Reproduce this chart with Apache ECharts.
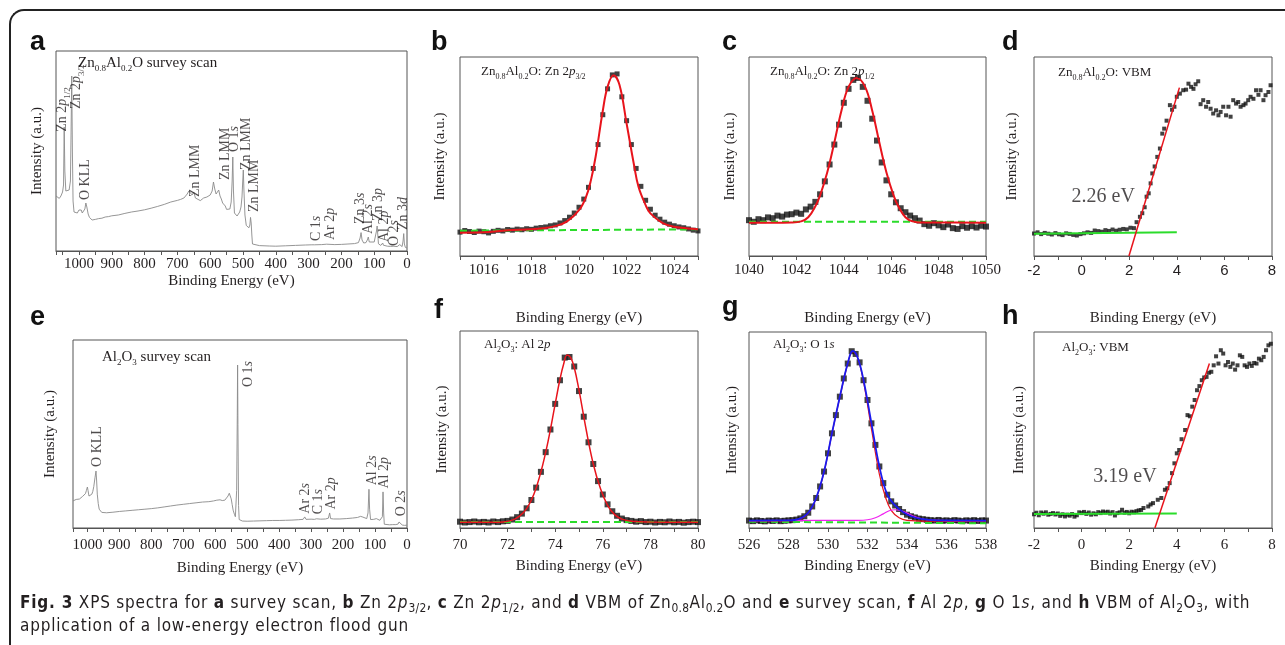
<!DOCTYPE html>
<html>
<head>
<meta charset="utf-8">
<title>XPS spectra</title>
<script src="https://cdn.jsdelivr.net/npm/echarts@6/dist/echarts.min.js"></script>
<style>
  html, body { margin: 0; padding: 0; background: #fff; }
  #frame {
    position: absolute; left: 9px; top: 9px; width: 1320px; height: 680px;
    border-left: 2px solid #222; border-top: 2px solid #222; border-top-left-radius: 15px;
  }
  #chart { position: absolute; left: 0; top: 0; width: 1285px; height: 645px; }
  #caption {
    position: absolute; left: 20px; top: 591px; white-space: nowrap;
    font-family: 'Liberation Sans Narrow', 'DejaVu Sans Condensed', sans-serif;
    font-size: 17px; letter-spacing: 0.8px; line-height: 23px; color: #231f20;
  }
  #caption sub { font-size: 70%; line-height: 0; letter-spacing: 0.3px; }
</style>
</head>
<body>
<div id="frame"></div>
<div id="chart"></div>
<div id="caption"><b>Fig. 3</b> XPS spectra for <b>a</b> survey scan, <b>b</b> Zn 2<i>p</i><sub>3/2</sub>, <b>c</b> Zn 2<i>p</i><sub>1/2</sub>, and <b>d</b> VBM of Zn<sub>0.8</sub>Al<sub>0.2</sub>O and <b>e</b> survey scan, <b>f</b> Al 2<i>p</i>, <b>g</b> O 1<i>s</i>, and <b>h</b> VBM of Al<sub>2</sub>O<sub>3</sub>, with<br>application of a low-energy electron flood gun</div>
<script>
// ---- data (intensity in arbitrary units, 0-100 of the box) ----

// a: Zn0.8Al0.2O survey
const surveyAE = [1070, 1065, 1060, 1055, 1050, 1047, 1045, 1043, 1040, 1035, 1030, 1026, 1024, 1022, 1020, 1018, 1015, 1010, 1005, 1000,
  996, 993, 990, 986, 982, 979, 976, 972, 968, 964, 960, 950, 940, 930, 920, 910, 900, 880, 860, 840, 820, 800, 780, 760, 740, 720, 700,
  690, 680, 670, 665, 660, 655, 650, 645, 640, 630, 620, 610, 600, 594, 590, 586, 582, 578, 574, 570, 566, 562, 558, 554, 550, 545, 540,
  536, 533, 531, 529, 526, 522, 518, 514, 510, 506, 503, 501, 499, 497, 494, 490, 486, 482, 479, 477, 475, 473, 471, 468, 450, 420, 400,
  370, 340, 310, 290, 285, 282, 260, 245, 242, 239, 220, 200, 180, 160, 148, 143, 140, 137, 132, 125, 121, 118, 115, 110, 100, 96, 93,
  91, 89, 87, 84, 80, 76, 74, 72, 60, 50, 40, 30, 25, 22, 19, 15, 12, 10, 8, 5, 0]
const surveyAI = [27.5, 26.8, 26.3, 27.5, 29.5, 33, 62, 40, 30, 29.5, 30.5, 35, 60, 87.5, 50, 25, 19.5, 18.5, 19, 20.5,
  19.5, 20.5, 19, 19.5, 21, 24, 22, 18.5, 16.8, 15.8, 15.5, 15.8, 16.2, 16.4, 17, 17.2, 17.6, 18, 18.8, 19.5, 20, 20.6, 21.4, 22.3, 23.3, 24.5, 25.3,
  25.8, 26.5, 28.5, 30, 30.5, 28, 29.5, 26.5, 25.6, 25.2, 26.5, 27, 28, 30, 34.5, 31, 28.5, 29, 30.5, 27.5, 26, 24, 24.5, 22.5, 20.8, 20.2, 21,
  24.5, 35, 47, 30, 19, 18.3, 17.5, 17.8, 19.5, 22, 27, 34, 40.5, 30, 18, 12.8, 11.8, 11.6, 13, 16.8, 14, 8, 3.5, 2.8, 2.7, 2.5, 2.4,
  2.6, 2.8, 3.0, 3.1, 3.8, 3.1, 3.2, 3.4, 4.3, 3.3, 3.2, 3.3, 3.5, 3.7, 4.2, 6.5, 9.2, 5.5, 4, 4.2, 5.5, 7, 4.5, 4.2, 4.5, 5.5, 10,
  12.5, 8, 3.6, 2.9, 2.8, 3.3, 4, 2.9, 2.4, 2.3, 2.4, 2.2, 2.8, 3.2, 2.4, 2.2, 5, 8.7, 3.5, 1.8, 1.5]
const surveyALabels = ['{n|Zn 2}{i|p}{s|1/2}', '{n|Zn 2}{i|p}{s|3/2}', '{n|O KLL}', '{n|Zn LMM}', '{n|Zn LMM}', '{n|O 1}{i|s}',
  '{n|Zn LMM}', '{n|Zn LMM}', '{n|C 1}{i|s}', '{n|Ar 2}{i|p}', '{n|Zn 3}{i|s}', '{n|Al 2}{i|s}', '{n|Zn 3}{i|p}', '{n|Al 2}{i|p}',
  '{n|O 2}{i|s}', '{n|Zn 3}{i|d}']
const surveyALabelE = [1050, 1007, 980, 644, 554, 525, 490, 466, 275, 234, 141, 117, 88, 69, 39, 10]
const surveyALabelI = [59.6, 71, 25.5, 27, 35.5, 49.5, 40.5, 19.5, 5, 5.5, 13.5, 8.5, 15, 4.5, 2.5, 10.5]

// e: Al2O3 survey
const surveyEE = [1045, 1040, 1035, 1030, 1025, 1020, 1015, 1010, 1006, 1003, 1000, 998, 995, 992, 989, 986, 983, 980, 976, 973,
  971, 969, 966, 963, 960, 955, 950, 940, 920, 900, 880, 860, 840, 820, 800, 780, 760, 740, 720, 700, 680, 660, 640, 620, 605, 595,
  585, 578, 570, 565, 560, 556, 553, 550, 547, 544, 540, 537, 535, 533, 531, 530, 529, 527, 525, 522, 515, 500, 480, 460, 440, 420,
  400, 380, 360, 340, 325, 320, 316, 300, 290, 286, 283, 270, 255, 246, 242, 239, 230, 210, 190, 170, 155, 145, 138, 132, 126, 122,
  119, 117, 114, 110, 104, 100, 96, 90, 85, 80, 77, 75, 73, 71, 65, 55, 45, 35, 28, 25, 23, 21, 15, 8, 3, 0]
const surveyEI = [14.4, 14.8, 15.2, 15.5, 15.4, 16, 16.8, 17.5, 18.3, 20, 21.8, 20, 17, 16.8, 17.2, 18, 19.5, 22, 27, 30.3,
  25, 18, 13, 10, 9, 8.3, 8.2, 8.1, 8.4, 8.8, 9.1, 9.4, 9.7, 10, 10.3, 10.7, 11.2, 11.7, 12.2, 12.6, 13, 13.4, 13.8, 14, 14.4, 14.8,
  15, 14.6, 14.8, 15.8, 17, 18.5, 18, 15.5, 12.5, 9.5, 7.3, 6, 6.5, 20, 60, 86.7, 55, 12, 4.5, 3.9, 3.7, 3.6, 3.7, 3.8, 3.9, 4.0,
  4.0, 4.1, 4.2, 4.4, 4.6, 5.9, 4.6, 4.7, 4.6, 5.4, 4.9, 4.7, 4.8, 5.2, 8, 5, 4.8, 4.8, 5, 5.3, 5.6, 6.2, 5.8, 5.2, 5, 8,
  20.6, 10, 4.5, 4.4, 4.6, 5.3, 5, 4.3, 4.1, 4.2, 6, 19.2, 8, 2, 1.8, 1.7, 1.8, 1.8, 2.1, 3.2, 3.7, 2.2, 1.6, 1.4, 1.7, 1.5]
const surveyELabels = ['{n|O KLL}', '{n|O 1}{i|s}', '{n|Ar 2}{i|s}', '{n|C 1}{i|s}', '{n|Ar 2}{i|p}', '{n|Al 2}{i|s}', '{n|Al 2}{i|p}', '{n|O 2}{i|s}']
const surveyELabelE = [970, 497, 317, 278, 236, 109, 70, 18]
const surveyELabelI = [32.5, 75, 7.6, 7.3, 9.8, 22.7, 21, 6.2]

// b: Zn 2p3/2
const zn32E = [1015.0, 1015.2, 1015.4, 1015.6, 1015.8, 1016.0, 1016.2, 1016.4, 1016.6, 1016.8, 1017.0, 1017.2, 1017.4, 1017.6, 1017.8,
  1018.0, 1018.2, 1018.4, 1018.6, 1018.8, 1019.0, 1019.2, 1019.4, 1019.6, 1019.8, 1020.0, 1020.2, 1020.4, 1020.6, 1020.8, 1021.0,
  1021.2, 1021.4, 1021.6, 1021.8, 1022.0, 1022.2, 1022.4, 1022.6, 1022.8, 1023.0, 1023.2, 1023.4, 1023.6, 1023.8, 1024.0, 1024.2,
  1024.4, 1024.6, 1024.8, 1025.0]
const zn32I = [12.0, 12.8, 12.3, 11.8, 12.5, 12.2, 11.6, 12.4, 12.9, 12.6, 13.3, 13.0, 13.5, 13.2, 13.7,
  13.4, 14.0, 14.3, 14.6, 15.2, 15.6, 16.6, 17.8, 19.5, 21.6, 24.5, 28.6, 34.5, 44.0, 56.0, 71.0,
  84.0, 91.0, 91.5, 80.0, 68.0, 56.0, 44.0, 35.0, 28.0, 23.5, 20.5, 18.5, 17.0, 16.0, 15.2, 14.6,
  14.2, 13.6, 13.0, 12.6]
const zn32FitE = [1015, 1016, 1017, 1018, 1018.5, 1019, 1019.5, 1020, 1020.3, 1020.5, 1020.7, 1021, 1021.2, 1021.45, 1021.7, 1022,
  1022.3, 1022.5, 1022.8, 1023, 1023.5, 1024, 1024.5, 1025]
const zn32FitI = [11.7, 11.9, 13, 13.4, 13.9, 15, 17.4, 23, 29.8, 38, 50, 73, 85, 90.8, 86, 66.6, 46.5, 34.8, 25.6, 21.4, 16.7, 14.7, 14, 13.4]
const zn32BaseE = [1015, 1025]
const zn32BaseI = [12.7, 13.4]

// c: Zn 2p1/2
const zn12E = [1040.0, 1040.2, 1040.4, 1040.6, 1040.8, 1041.0, 1041.2, 1041.4, 1041.6, 1041.8, 1042.0, 1042.2, 1042.4, 1042.6,
  1042.8, 1043.0, 1043.2, 1043.4, 1043.6, 1043.8, 1044.0, 1044.2, 1044.4, 1044.6, 1044.8, 1045.0, 1045.2, 1045.4, 1045.6, 1045.8,
  1046.0, 1046.2, 1046.4, 1046.6, 1046.8, 1047.0, 1047.2, 1047.4, 1047.6, 1047.8, 1048.0, 1048.2, 1048.4, 1048.6, 1048.8, 1049.0,
  1049.2, 1049.4, 1049.6, 1049.8, 1050.0]
const zn12I = [18.0, 17.2, 18.5, 18.0, 19.4, 19.0, 20.3, 19.8, 20.8, 21.0, 21.8, 21.2, 23.4, 24.8,
  27.2, 31.0, 37.5, 46.0, 56.0, 66.0, 77.0, 84.0, 88.5, 89.5, 85.0, 78.0, 69.0, 58.0, 47.0, 38.0,
  31.0, 27.0, 24.0, 22.0, 20.3, 19.0, 17.8, 16.0, 15.2, 16.5, 15.4, 14.5, 15.8, 14.0, 13.6, 15.0,
  14.2, 15.0, 14.3, 15.2, 14.8]
const zn12FitE = [1040, 1041, 1041.8, 1042.2, 1042.5, 1042.8, 1043.0, 1043.3, 1043.6, 1043.9, 1044.2, 1044.55, 1044.9, 1045.2,
  1045.5, 1045.8, 1046.1, 1046.3, 1046.6, 1046.9, 1047.3, 1048, 1050]
const zn12FitI = [16.7, 16.7, 16.8, 17.4, 19.5, 25, 30.5, 42, 57, 73, 85, 89.5, 85, 73, 57, 42, 30.5, 25, 19.5, 17.4, 16.8, 16.8, 16.7]
const zn12BaseE = [1040, 1050]
const zn12BaseI = [17.2, 17.2]

// d: Zn0.8Al0.2O valence band
const vbmZnE = [-2.0, -1.85, -1.7, -1.55, -1.4, -1.25, -1.1, -0.95, -0.8, -0.65, -0.5, -0.35, -0.2, -0.05, 0.1, 0.25, 0.4, 0.55,
  0.7, 0.85, 1.0, 1.15, 1.3, 1.45, 1.6, 1.75, 1.9, 2.05, 2.2, 2.31, 2.45, 2.55, 2.65, 2.73, 2.82, 2.9, 2.97, 3.07, 3.18, 3.29,
  3.39, 3.47, 3.57, 3.71, 3.8, 3.9, 4.0, 4.13, 4.27, 4.39, 4.49, 4.6, 4.7, 4.79, 4.9, 5.0, 5.11, 5.23, 5.32, 5.42, 5.53, 5.65,
  5.75, 5.84, 5.95, 6.07, 6.17, 6.26, 6.37, 6.49, 6.58, 6.68, 6.8, 6.89, 7.0, 7.1, 7.22, 7.33, 7.43, 7.52, 7.64, 7.73, 7.85, 7.94]
const vbmZnI = [11.3, 11.9, 11.0, 11.6, 11.2, 10.8, 11.5, 10.9, 10.5, 11.4, 11.1, 10.6, 10.3, 11.0, 11.4, 11.9, 11.6, 12.8,
  12.5, 12.2, 13.0, 12.6, 13.3, 12.7, 13.2, 13.6, 13.4, 14.2, 14.0, 17.0, 19.7, 21.5, 24.5, 29.8, 31.5, 36.5, 41.5, 45.0, 49.8, 54.0,
  61.5, 64.0, 68.0, 75.8, 73.5, 75.0, 80.0, 81.6, 83.3, 83.6, 86.6, 85.0, 84.0, 86.3, 87.8, 76.3, 78.3, 75.0, 77.4, 74.0, 71.6, 73.2,
  70.7, 72.4, 75.0, 70.7, 75.0, 70.0, 78.3, 76.6, 77.4, 75.0, 75.8, 76.6, 78.3, 80.0, 79.0, 83.3, 81.0, 83.3, 78.3, 80.8, 82.4, 85.8]
const vbmZnEdgeE = [1.99, 4.11]
const vbmZnEdgeI = [0, 84.6]
const vbmZnBaseE = [-2, 4]
const vbmZnBaseI = [11.2, 11.9]
const vbmZnNote = ['2.26 eV', 0.91, 29.8]

// f: Al 2p
const al2pE = [70.0, 70.2, 70.4, 70.6, 70.8, 71.0, 71.2, 71.4, 71.6, 71.8, 72.0, 72.2, 72.4, 72.6, 72.8, 73.0, 73.2, 73.4, 73.6,
  73.8, 74.0, 74.2, 74.4, 74.6, 74.8, 75.0, 75.2, 75.4, 75.6, 75.8, 76.0, 76.2, 76.4, 76.6, 76.8, 77.0, 77.2, 77.4, 77.6, 77.8,
  78.0, 78.2, 78.4, 78.6, 78.8, 79.0, 79.2, 79.4, 79.6, 79.8, 80.0]
const al2pI = [3.2, 2.8, 3.0, 3.3, 2.9, 3.1, 2.8, 3.3, 3.0, 3.4, 3.6, 4.3, 5.5, 7.3, 10.0, 14.2, 20.5, 28.5, 38.5,
  50.0, 63.0, 75.0, 86.5, 86.8, 82.0, 69.5, 56.5, 43.5, 32.5, 23.8, 17.0, 12.0, 8.5, 6.2, 4.8, 4.0, 3.6, 3.2, 3.5, 3.0,
  3.2, 2.8, 3.1, 2.9, 3.3, 2.9, 3.1, 2.7, 3.0, 3.2, 3.0]
const al2pFitE = [70, 71, 71.8, 72.2, 72.5, 72.8, 73.1, 73.4, 73.7, 74.0, 74.2, 74.35, 74.5, 74.65, 74.8, 75.0, 75.3, 75.6, 75.9,
  76.2, 76.5, 76.8, 77.2, 78, 80]
const al2pFitI = [2.9, 2.9, 3.1, 4.0, 6.0, 9.8, 17, 28.5, 44, 63, 75.5, 83, 87.8, 86.5, 81.5, 70, 50, 32.5, 20, 11.5, 6.8, 4.5, 3.4, 3.0, 2.9]
const al2pBaseE = [70, 80]
const al2pBaseI = [3.05, 3.05]

// g: O 1s
const o1sE = [526.0, 526.2, 526.4, 526.6, 526.8, 527.0, 527.2, 527.4, 527.6, 527.8, 528.0, 528.2, 528.4, 528.6, 528.8, 529.0,
  529.2, 529.4, 529.6, 529.8, 530.0, 530.2, 530.4, 530.6, 530.8, 531.0, 531.2, 531.4, 531.6, 531.8, 532.0, 532.2, 532.4, 532.6,
  532.8, 533.0, 533.2, 533.4, 533.6, 533.8, 534.0, 534.2, 534.4, 534.6, 534.8, 535.0, 535.2, 535.4, 535.6, 535.8, 536.0, 536.2,
  536.4, 536.6, 536.8, 537.0, 537.2, 537.4, 537.6, 537.8, 538.0]
const o1sI = [3.8, 3.5, 3.9, 3.6, 3.4, 3.8, 3.6, 3.9, 3.5, 3.7, 3.9, 4.0, 4.3, 4.9, 6.0, 7.8,
  11.0, 15.3, 21.2, 28.8, 38.1, 48.3, 57.6, 67.0, 76.3, 83.9, 90.2, 88.8, 84.5, 75.4, 65.3, 53.4, 42.4, 31.4,
  22.9, 17.0, 13.6, 11.5, 9.7, 8.1, 6.8, 6.0, 5.4, 4.8, 4.5, 4.2, 4.0, 3.8, 4.1, 3.7, 3.9, 3.6,
  4.0, 3.8, 3.5, 3.9, 3.7, 4.0, 3.6, 3.9, 3.8]
const o1sSumE = [526, 528, 528.5, 529, 529.4, 529.8, 530.2, 530.6, 531, 531.25, 531.5, 531.8, 532.2, 532.6, 533.0, 533.4, 533.8,
  534.2, 534.8, 535.5, 538]
const o1sSumI = [3.8, 3.9, 4.5, 7.8, 15.3, 28.8, 48.3, 67, 84, 90.3, 87, 75.4, 53.4, 31.4, 17, 11.5, 8.1, 6, 4.5, 3.9, 3.8]
const o1sMainE = [526, 528, 528.5, 529, 529.4, 529.8, 530.2, 530.6, 531, 531.25, 531.5, 531.8, 532.2, 532.6, 532.9, 533.2, 533.6,
  534, 535, 538]
const o1sMainI = [3.6, 3.7, 4.3, 7.6, 15.1, 28.6, 48.1, 66.8, 83.8, 90.1, 86.8, 74.5, 50.5, 27.5, 16, 9, 5.2, 3.9, 3.5, 3.5]
const o1sSideE = [526, 531.5, 532.0, 532.4, 532.8, 533.1, 533.4, 533.7, 534.0, 534.4, 534.8, 535.3, 536, 538]
const o1sSideI = [3.8, 3.9, 4.2, 5.2, 7.2, 8.8, 9.3, 8.9, 7.6, 5.8, 4.6, 4.0, 3.8, 3.8]
const o1sBaseE = [526, 538]
const o1sBaseI = [3.2, 2.4]

// h: Al2O3 valence band
const vbmAlE = [-2.0, -1.9, -1.8, -1.7, -1.6, -1.5, -1.4, -1.3, -1.2, -1.1, -1.0, -0.9, -0.8, -0.7, -0.6, -0.5, -0.4, -0.3, -0.2,
  -0.1, 0.0, 0.1, 0.2, 0.3, 0.4, 0.5, 0.6, 0.7, 0.8, 0.9, 1.0, 1.1, 1.2, 1.3, 1.4, 1.5, 1.6, 1.7, 1.8, 1.9, 2.0, 2.1, 2.2, 2.3,
  2.4, 2.5, 2.6, 2.8, 2.9, 3.0, 3.2, 3.35, 3.5, 3.6, 3.7, 3.8, 3.9, 4.0, 4.1, 4.2, 4.35, 4.45, 4.55, 4.65, 4.75, 4.85, 4.95, 5.05,
  5.15, 5.25, 5.35, 5.45, 5.55, 5.65, 5.75, 5.85, 5.95, 6.05, 6.15, 6.25, 6.35, 6.45, 6.55, 6.65, 6.75, 6.85, 6.95, 7.05, 7.15,
  7.25, 7.35, 7.45, 7.55, 7.65, 7.75, 7.85, 7.95]
const vbmAlI = [7.0, 7.8, 6.5, 7.9, 7.3, 8.0, 6.8, 7.2, 7.6, 6.9, 7.4, 6.2, 7.0, 5.9, 6.8, 6.3, 7.1, 5.8, 6.5,
  8.0, 7.6, 8.2, 7.2, 7.9, 6.8, 7.5, 7.0, 8.1, 7.6, 8.4, 7.9, 8.3, 7.4, 8.1, 6.4, 7.6, 8.0, 9.3, 7.8, 8.2, 7.5, 8.3, 8.0, 8.6,
  9.0, 9.2, 10.2, 11.0, 12.0, 12.7, 14.4, 15.3, 19.5, 20.3, 22.9, 28.0, 33.0, 38.1, 39.8, 45.3, 50.0, 57.6, 57.0, 61.9, 65.3, 70.3, 72.4, 75.4,
  76.8, 77.1, 79.2, 79.7, 83.0, 87.6, 83.9, 90.7, 89.0, 83.0, 84.7, 82.2, 83.9, 80.8, 83.0, 88.1, 87.3, 83.0, 82.2, 83.9, 82.7,
  84.2, 83.9, 86.4, 85.6, 87.3, 90.7, 93.2, 94.0]
const vbmAlEdgeE = [3.08, 5.37]
const vbmAlEdgeI = [0, 83.9]
const vbmAlBaseE = [-2, 4]
const vbmAlBaseI = [7.1, 7.4]
const vbmAlNote = ['3.19 eV', 1.82, 26.3]

// ---- styling ----
const SERIF = "'Liberation Serif', 'Times New Roman', serif"
const SANS = "'Liberation Sans', Arial, sans-serif"
const COLORS = {
  text: '#231f20',
  frame: '#555',
  survey: '#8a8a8a',
  dots: '#111',
  fit: '#e8141c',
  base: '#2bdc2b',
  sum: '#1a1aee',
  side: '#f020f0',
}

const GRIDS = [
  { left: 56, top: 51, width: 351, height: 200 },   // a
  { left: 460, top: 57, width: 238, height: 199 },  // b
  { left: 749, top: 57, width: 237, height: 199 },  // c
  { left: 1034, top: 57, width: 238, height: 199 }, // d
  { left: 73, top: 340, width: 334, height: 188 },  // e
  { left: 460, top: 331, width: 238, height: 197 }, // f
  { left: 749, top: 332, width: 237, height: 196 }, // g
  { left: 1034, top: 332, width: 238, height: 196 }, // h
]

function richStyles(size) {
  return {
    n: { fontFamily: SERIF, fontSize: size, color: COLORS.text, lineHeight: size + 5 },
    i: { fontFamily: SERIF, fontSize: size, fontStyle: 'italic', color: COLORS.text, lineHeight: size + 5 },
    s: { fontFamily: SERIF, fontSize: Math.round(size * 0.62), color: COLORS.text, verticalAlign: 'bottom', lineHeight: 9 },
  }
}

const zip = (xs, ys) => xs.map((x, i) => [x, ys[i]])

function xAxisFor(idx, cfg) {
  return {
    type: 'value',
    gridIndex: idx,
    min: cfg.min,
    max: cfg.max,
    interval: cfg.interval,
    inverse: !!cfg.inverse,
    name: cfg.name || '',
    nameLocation: 'middle',
    nameGap: cfg.nameGap || 30,
    nameTextStyle: { fontFamily: SERIF, fontSize: 15, color: COLORS.text },
    axisLine: { show: true, lineStyle: { color: COLORS.frame, width: 1 } },
    axisTick: { show: true, inside: false, length: 4, lineStyle: { color: COLORS.frame } },
    axisLabel: {
      margin: cfg.margin || 7,
      fontFamily: cfg.font || SERIF,
      fontSize: 15,
      color: COLORS.text,
      showMinLabel: true,
      showMaxLabel: true,
      formatter: v => (Math.round(v) % cfg.labelStep === 0 ? String(Math.round(v)) : ''),
    },
    splitLine: { show: false },
  }
}

function yAxisFor(idx, gap) {
  return {
    type: 'value',
    gridIndex: idx,
    min: 0,
    max: 100,
    name: 'Intensity (a.u.)',
    nameLocation: 'middle',
    nameGap: gap,
    nameTextStyle: { fontFamily: SERIF, fontSize: 15, color: COLORS.text },
    axisLine: { show: false },
    axisTick: { show: false },
    axisLabel: { show: false },
    splitLine: { show: false },
  }
}

const BE = 'Binding Energy (eV)'
const xAxes = [
  xAxisFor(0, { min: 0, max: 1070, interval: 50, labelStep: 100, inverse: true, name: BE, nameGap: 23, margin: 6 }),
  xAxisFor(1, { min: 1015, max: 1025, interval: 1, labelStep: 2, name: BE, nameGap: 55, margin: 7 }),
  xAxisFor(2, { min: 1040, max: 1050, interval: 1, labelStep: 2, name: BE, nameGap: 55, margin: 7 }),
  xAxisFor(3, { min: -2, max: 8, interval: 1, labelStep: 2, name: BE, nameGap: 55, margin: 7, font: SANS }),
  xAxisFor(4, { min: 0, max: 1045, interval: 50, labelStep: 100, inverse: true, name: BE, nameGap: 33, margin: 10 }),
  xAxisFor(5, { min: 70, max: 80, interval: 1, labelStep: 2, name: BE, nameGap: 31, margin: 10 }),
  xAxisFor(6, { min: 526, max: 538, interval: 1, labelStep: 2, name: BE, nameGap: 31, margin: 10 }),
  xAxisFor(7, { min: -2, max: 8, interval: 1, labelStep: 2, name: BE, nameGap: 31, margin: 10 }),
]
const yAxes = [yAxisFor(0, 11), yAxisFor(1, 12), yAxisFor(2, 11), yAxisFor(3, 14),
  yAxisFor(4, 15), yAxisFor(5, 10), yAxisFor(6, 9), yAxisFor(7, 7)]

function dots(idx, xs, ys, size) {
  return {
    type: 'scatter', xAxisIndex: idx, yAxisIndex: idx, data: zip(xs, ys),
    symbol: 'rect', symbolSize: size, itemStyle: { color: COLORS.dots }, z: 2,
  }
}
function curve(idx, xs, ys, color, width, opts = {}) {
  return {
    type: 'line', xAxisIndex: idx, yAxisIndex: idx, data: zip(xs, ys),
    showSymbol: false, smooth: opts.smooth || false,
    lineStyle: { color, width, type: opts.dash || 'solid' }, z: opts.z || 3,
  }
}
function peakLabels(idx, labels, xs, ys) {
  return {
    type: 'scatter', xAxisIndex: idx, yAxisIndex: idx, symbolSize: 0, z: 5,
    data: labels.map((t, i) => [xs[i], ys[i], t]),
    label: {
      show: true, position: [0, 0], rotate: 90, align: 'left', verticalAlign: 'middle',
      formatter: p => p.data[2], rich: richStyles(14),
    },
  }
}
function note(idx, item) {
  return {
    type: 'scatter', xAxisIndex: idx, yAxisIndex: idx, symbolSize: 0, z: 5,
    data: [[item[1], item[2], item[0]]],
    label: {
      show: true, position: [0, 0], align: 'center', verticalAlign: 'middle',
      formatter: p => p.data[2], fontFamily: SERIF, fontSize: 20, color: COLORS.text,
    },
  }
}

const series = [
  curve(0, surveyAE, surveyAI, COLORS.survey, 0.9),
  peakLabels(0, surveyALabels, surveyALabelE, surveyALabelI),

  dots(1, zn32E, zn32I, 5),
  curve(1, zn32BaseE, zn32BaseI, COLORS.base, 2, { dash: [7, 4] }),
  curve(1, zn32FitE, zn32FitI, COLORS.fit, 2, { smooth: 0.4, z: 4 }),

  dots(2, zn12E, zn12I, 6),
  curve(2, zn12BaseE, zn12BaseI, COLORS.base, 2, { dash: [7, 4] }),
  curve(2, zn12FitE, zn12FitI, COLORS.fit, 2, { smooth: 0.4, z: 4 }),

  dots(3, vbmZnE, vbmZnI, 4),
  curve(3, vbmZnBaseE, vbmZnBaseI, COLORS.base, 2),
  curve(3, vbmZnEdgeE, vbmZnEdgeI, COLORS.fit, 1.5, { z: 4 }),
  note(3, vbmZnNote),

  curve(4, surveyEE, surveyEI, COLORS.survey, 0.9),
  peakLabels(4, surveyELabels, surveyELabelE, surveyELabelI),

  dots(5, al2pE, al2pI, 6),
  curve(5, al2pBaseE, al2pBaseI, COLORS.base, 2, { dash: [7, 4] }),
  curve(5, al2pFitE, al2pFitI, COLORS.fit, 1.5, { smooth: 0.4, z: 4 }),

  dots(6, o1sE, o1sI, 6),
  curve(6, o1sBaseE, o1sBaseI, COLORS.base, 2, { dash: [7, 4] }),
  curve(6, o1sMainE, o1sMainI, COLORS.fit, 1.2, { smooth: 0.4, z: 3 }),
  curve(6, o1sSideE, o1sSideI, COLORS.side, 1.2, { smooth: 0.4, z: 3 }),
  curve(6, o1sSumE, o1sSumI, COLORS.sum, 1.8, { smooth: 0.4, z: 4 }),

  dots(7, vbmAlE, vbmAlI, 4),
  curve(7, vbmAlBaseE, vbmAlBaseI, COLORS.base, 2),
  curve(7, vbmAlEdgeE, vbmAlEdgeI, COLORS.fit, 1.5, { z: 4 }),
  note(7, vbmAlNote),
]

// in-plot titles
const ZNAL = '{n|Zn}{s|0.8}{n|Al}{s|0.2}{n|O'
const ALO = '{n|Al}{s|2}{n|O}{s|3}'
const plotTitles = [
  { text: ZNAL + ' survey scan}', left: 78, top: 53, size: 15 },
  { text: ZNAL + ': Zn 2}{i|p}{s|3/2}', left: 481, top: 63, size: 13 },
  { text: ZNAL + ': Zn 2}{i|p}{s|1/2}', left: 770, top: 63, size: 13 },
  { text: ZNAL + ': VBM}', left: 1058, top: 64, size: 13 },
  { text: ALO + '{n| survey scan}', left: 102, top: 347, size: 15 },
  { text: ALO + '{n|: Al 2}{i|p}', left: 484, top: 336, size: 13 },
  { text: ALO + '{n|: O 1}{i|s}', left: 773, top: 336, size: 13 },
  { text: ALO + '{n|: VBM}', left: 1062, top: 339, size: 13 },
]
const letters = [
  { t: 'a', x: 30, y: 56 }, { t: 'b', x: 431, y: 56 }, { t: 'c', x: 722, y: 56 }, { t: 'd', x: 1002, y: 56 },
  { t: 'e', x: 30, y: 331 }, { t: 'f', x: 434, y: 324 }, { t: 'g', x: 722, y: 321 }, { t: 'h', x: 1002, y: 330 },
]

const title = plotTitles.map(p => ({
  text: p.text, left: p.left, top: p.top, padding: 0,
  textStyle: { fontFamily: SERIF, fontWeight: 'normal', fontSize: p.size, rich: richStyles(p.size) },
}))

const graphic = letters.map(l => ({
  type: 'text', x: l.x, y: l.y,
  style: {
    text: l.t, fill: '#111', font: "bold 27px 'Liberation Sans', Arial, sans-serif",
    verticalAlign: 'bottom',
  },
}))

const chart = echarts.init(document.getElementById('chart'), null, { renderer: 'canvas' })
chart.setOption({
  animation: false,
  backgroundColor: 'transparent',
  title,
  graphic,
  grid: GRIDS.map(g => ({ ...g, show: true, borderColor: COLORS.frame, borderWidth: 1, containLabel: false })),
  xAxis: xAxes,
  yAxis: yAxes,
  tooltip: { show: false },
  series: series.map(s => ({ ...s, silent: true, emphasis: { disabled: true } })),
})
</script>
</body>
</html>
